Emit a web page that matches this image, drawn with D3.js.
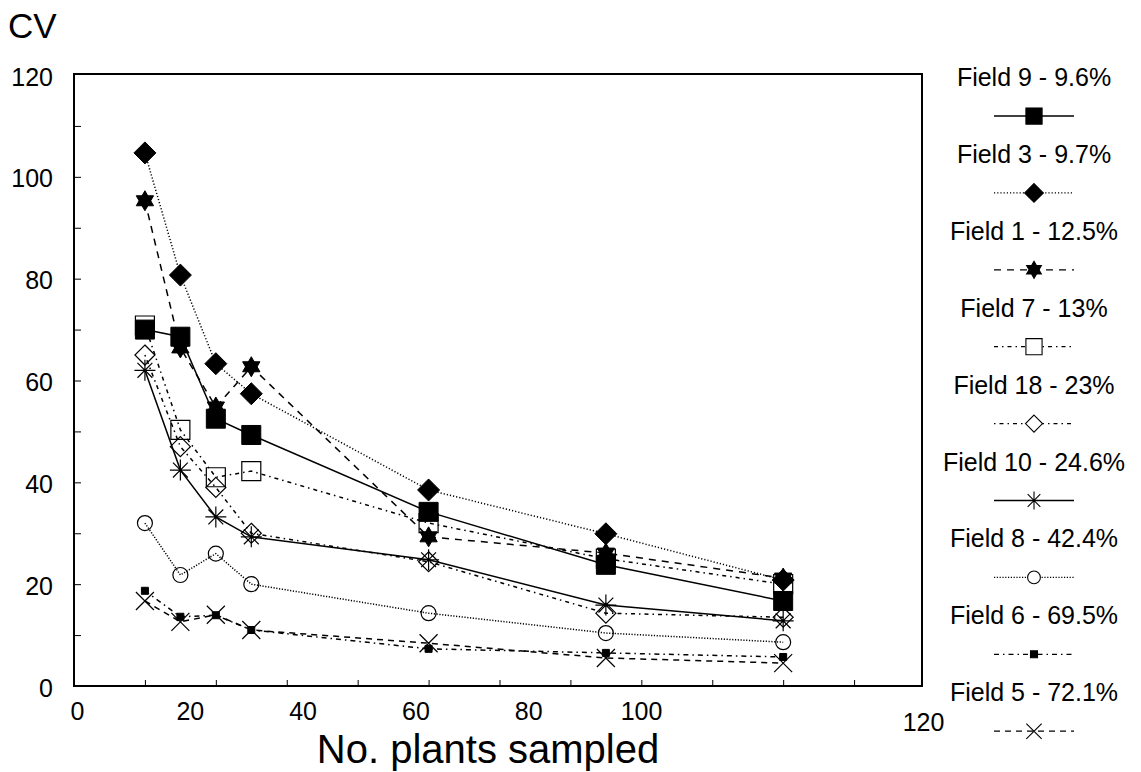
<!DOCTYPE html>
<html>
<head>
<meta charset="utf-8">
<script src="https://cdn.jsdelivr.net/npm/d3@7"></script>
<style>
  html, body { margin: 0; padding: 0; background: #fff; }
  svg { display: block; font-family: "Liberation Sans", Arial, sans-serif; }
</style>
</head>
<body>
<svg id="chart" width="1141" height="772"></svg>
<script>
// ---------------- data ----------------
const samples = [10, 15, 20, 25, 50, 75, 100];
const xTickLabels = [0, 20, 40, 60, 80, 100, 120];
const yTickLabels = [0, 20, 40, 60, 80, 100, 120];
const field9  = [70, 68.6, 52.5, 49.3, 34.2, 23.8, 16.7];
const field3  = [104.7, 80.7, 63.3, 57.4, 38.5, 29.9, 20.8];
const field1  = [95.3, 66.4, 54.8, 62.7, 29.3, 26.1, 21.2];
const field7  = [70.8, 50.3, 41, 42.2, 32, 25, 20];
const field18 = [65, 47, 39, 30, 24.4, 14.3, 13.5];
const field10 = [62, 42.4, 33.2, 29.3, 24.8, 15.9, 12.8];
const field8  = [32, 21.8, 26, 20, 14.3, 10.4, 8.6];
const field6  = [18.7, 13.6, 13.9, 11, 7.3, 6.5, 5.7];
const field5  = [16.7, 12.6, 14, 11, 8.4, 5.5, 4.5];
const legendLabels = ["Field 9 - 9.6%", "Field 3 - 9.7%", "Field 1 - 12.5%", "Field 7 - 13%",
  "Field 18 - 23%", "Field 10 - 24.6%", "Field 8 - 42.4%", "Field 6 - 69.5%", "Field 5 - 72.1%"];

// ---------------- styles (not data) ----------------
const seriesDefs = [
  { values: field9,  dash: null,            marker: "square",  size: 19, fill: "#000" },
  { values: field3,  dash: "1.2,2",         marker: "diamond", size: 22, fill: "#000" },
  { values: field1,  dash: "7,6",           marker: "star6",   size: 20, fill: "#000" },
  { values: field7,  dash: "4,4,1.5,4",     marker: "square",  size: 19, fill: "none" },
  { values: field18, dash: "1.5,4,4,4",     marker: "diamond", size: 20, fill: "none" },
  { values: field10, dash: null,            marker: "aster",   size: 21, fill: "none" },
  { values: field8,  dash: "1.2,1.6",       marker: "circle",  size: 15, fill: "none" },
  { values: field6,  dash: "5,4,1.5,4",     marker: "square",  size: 7,  fill: "#000" },
  { values: field5,  dash: "6,5",           marker: "cross",   size: 24, fill: "none" }
];

const svg = d3.select("#chart");
const plot = { left: 74, right: 922, top: 74, bottom: 686 };

const x = d3.scaleLinear().domain([0, 120]).range([74, 925]);
const y = d3.scaleLinear().domain([0, 120]).range([686, 75]);
// printed tick labels in the original are not aligned with the data scale
const xLabel = d3.scaleLinear().domain([0, 100, 120]).range([77, 641, 923]);

function markerPath(type, s) {
  const r = s / 2;
  const p = d3.path();
  if (type === "square") {
    p.rect(-r, -r, s, s);
  } else if (type === "diamond") {
    p.moveTo(0, -r); p.lineTo(r, 0); p.lineTo(0, r); p.lineTo(-r, 0); p.closePath();
  } else if (type === "star6") {
    const c = Math.cos(Math.PI / 6) * r, h = r / 2;
    p.moveTo(0, -r); p.lineTo(c, h); p.lineTo(-c, h); p.closePath();
    p.moveTo(0, r); p.lineTo(-c, -h); p.lineTo(c, -h); p.closePath();
  } else if (type === "circle") {
    p.moveTo(r, 0); p.arc(0, 0, r, 0, 2 * Math.PI);
  } else if (type === "aster") {
    for (let k = 0; k < 4; k++) {
      const a = k * Math.PI / 4;
      p.moveTo(Math.cos(a) * r, Math.sin(a) * r);
      p.lineTo(-Math.cos(a) * r, -Math.sin(a) * r);
    }
  } else if (type === "cross") {
    const d = r * 0.75;
    p.moveTo(-d, -d); p.lineTo(d, d);
    p.moveTo(d, -d); p.lineTo(-d, d);
  }
  return p.toString();
}

// ---------------- frame and ticks ----------------
svg.append("rect")
  .attr("x", plot.left).attr("y", plot.top)
  .attr("width", plot.right - plot.left).attr("height", plot.bottom - plot.top)
  .attr("fill", "none").attr("stroke", "#000").attr("stroke-width", 2);

const yAxisTicks = d3.axisRight(y).tickValues(d3.range(10, 120, 10)).tickSize(7).tickFormat("");
svg.append("g").attr("transform", `translate(${plot.left},0)`).call(yAxisTicks)
  .call(g => g.select(".domain").remove())
  .call(g => g.selectAll("line").attr("stroke-width", 1));

const xAxisTicks = d3.axisTop(x).tickValues(d3.range(10, 120, 10)).tickSize(6).tickFormat("");
svg.append("g").attr("transform", `translate(0,${plot.bottom})`).call(xAxisTicks)
  .call(g => g.select(".domain").remove())
  .call(g => g.selectAll("line").attr("stroke-width", 1));

const yLabAxis = d3.axisLeft(y).tickValues(yTickLabels).tickSize(0).tickPadding(0);
svg.append("g").attr("transform", `translate(53,2)`).call(yLabAxis)
  .call(g => g.select(".domain").remove())
  .call(g => g.selectAll("text").attr("font-size", 25).attr("font-family", "Liberation Sans, Arial, sans-serif").attr("fill", "#000"));

const xLabAxis = d3.axisBottom(xLabel).tickValues(xTickLabels).tickSize(0).tickPadding(0);
svg.append("g").attr("transform", `translate(0,${plot.bottom + 16})`).call(xLabAxis)
  .call(g => g.select(".domain").remove())
  .call(g => g.selectAll("text").attr("font-size", 25).attr("font-family", "Liberation Sans, Arial, sans-serif").attr("fill", "#000"))
  .call(g => g.selectAll(".tick").filter(d => d === 120).select("text").attr("dy", "1.15em"));

svg.append("text").attr("x", 8).attr("y", 38).attr("font-size", 35).text("CV");
svg.append("text").attr("x", 488).attr("y", 763).attr("text-anchor", "middle")
  .attr("font-size", 40).text("No. plants sampled");

// ---------------- series ----------------
const line = d3.line().x((d, i) => x(samples[i])).y(d => y(d));

const gLines = svg.append("g");
seriesDefs.forEach(s => {
  gLines.append("path").datum(s.values)
    .attr("d", line)
    .attr("fill", "none").attr("stroke", "#000").attr("stroke-width", 1.5)
    .attr("stroke-dasharray", s.dash);
});

const gMarks = svg.append("g");
seriesDefs.forEach(s => {
  gMarks.selectAll(null).data(s.values).enter().append("path")
    .attr("transform", (d, i) => `translate(${x(samples[i])},${y(d)})`)
    .attr("d", markerPath(s.marker, s.size))
    .attr("fill", s.fill).attr("stroke", "#000").attr("stroke-width", s.fill === "none" ? 1.2 : 1);
});

// ---------------- legend ----------------
const legX = 1034;
const legend = svg.append("g");
legendLabels.forEach((lab, i) => {
  const cy = 77 + i * 76.9;
  legend.append("text").attr("x", legX).attr("y", cy + 9).attr("text-anchor", "middle")
    .attr("font-size", 25).text(lab);
  const sy = cy + 39;
  const s = seriesDefs[i];
  legend.append("line").attr("x1", legX - 40).attr("x2", legX + 40).attr("y1", sy).attr("y2", sy)
    .attr("stroke", "#000").attr("stroke-width", 1.3).attr("stroke-dasharray", s.dash);
  legend.append("path").attr("transform", `translate(${legX},${sy})`)
    .attr("d", markerPath(s.marker, Math.max(7, s.size * 0.85)))
    .attr("fill", s.fill === "none" ? "#fff" : s.fill).attr("stroke", "#000").attr("stroke-width", 1.1);
});
</script>
</body>
</html>
